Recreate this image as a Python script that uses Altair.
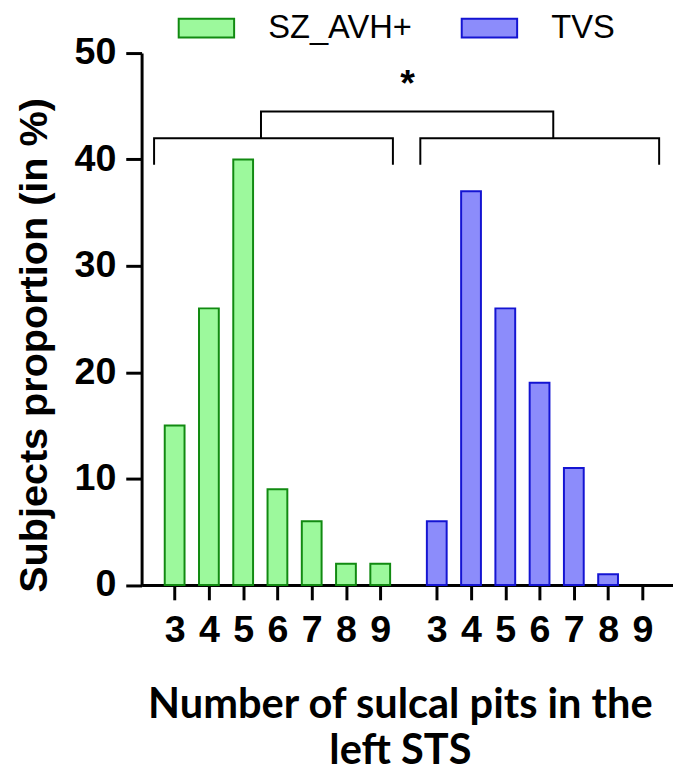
import altair as alt
import pandas as pd

# ---- data ----
pits = [3, 4, 5, 6, 7, 8, 9]
sz_avh = [15, 26, 40, 9, 6, 2, 2]
tvs = [6, 37, 26, 19, 11, 1, 0]
groups = ["SZ_AVH+", "TVS"]
fills = ["#9cf99c", "#8c8cfb"]
strokes = ["#118a11", "#1414d2"]

GAP = 7.65  # start of second group on the x scale (layout)

rows = []
for g, vals in zip(groups, [sz_avh, tvs]):
    for p, v in zip(pits, vals):
        rows.append({"group": g, "pits": p, "pct": v})
df = pd.DataFrame(rows)

# bracket annotation (x in scale units, y in %)
br_id = ["L", "L", "L", "L", "R", "R", "R", "R", "T", "T", "T", "T"]
br_ord = [0, 1, 2, 3] * 3
br_x = [-0.6, -0.6, 6.37, 6.37, 7.17, 7.17, 14.14, 14.14, 2.52, 2.52, 11.05, 11.05]
br_y = [39.5, 42, 42, 39.5, 39.5, 42, 42, 39.5, 42, 44.5, 44.5, 42]
brackets = pd.DataFrame({"id": br_id, "o": br_ord, "x": br_x, "y": br_y})
star = pd.DataFrame({"x": [6.8], "y": [47.0], "t": ["*"]})

tick_vals = [p - 3 for p in pits] + [p - 3 + GAP for p in pits]

xscale = alt.Scale(domain=[-0.82, 14.4], nice=False, zero=False)
yscale = alt.Scale(domain=[0, 50], nice=False)

# wide flat rectangle drawn beyond the unit box, so the legend row stays short
rect_path = "M-2.8,-0.95L2.8,-0.95L2.8,0.95L-2.8,0.95Z"

legend_opts = dict(title=None, orient="none", legendX=49, legendY=-42,
                   direction="horizontal", symbolType=rect_path,
                   symbolSize=400, symbolStrokeWidth=2,
                   labelFont="Liberation Sans", labelFontSize=33,
                   labelColor="black", labelOffset=46, columnPadding=45,
                   labelLimit=300)

bars = alt.Chart(df).transform_filter(
    "datum.pct > 0"
).transform_calculate(
    pos=f"datum.group === 'SZ_AVH+' ? datum.pits - 3 : datum.pits - 3 + {GAP}"
).mark_bar(size=20, strokeWidth=2).encode(
    x=alt.X("pos:Q", scale=xscale,
            axis=alt.Axis(values=tick_vals,
                          labelExpr=f"datum.value < 7 ? format(datum.value + 3, 'd') : format(round(datum.value - {GAP} + 3), 'd')",
                          title=["Number of sulcal pits in the", "left STS"],
                          titleFont="Lato", titleFontSize=42, titleFontWeight="bold",
                          titleLineHeight=46, titleBaseline="alphabetic",
                          titleX=261, titleY=134,
                          labelFont="Liberation Sans", labelFontSize=38, labelFontWeight="bold",
                          labelPadding=12, tickSize=15, tickWidth=3, domainWidth=3,
                          tickColor="black", domainColor="black", labelColor="black",
                          titleColor="black", grid=False, labelFlush=False,
                          labelOverlap=False)),
    y=alt.Y("pct:Q", scale=yscale,
            axis=alt.Axis(values=[0, 10, 20, 30, 40, 50], title="Subjects proportion (in %)",
                          titleFont="Liberation Sans", titleFontSize=40, titleFontWeight="bold",
                          titleX=-108, titleY=295, titleBaseline="middle", titleAngle=270,
                          labelFont="Liberation Sans", labelFontSize=38, labelFontWeight="bold",
                          labelPadding=10, tickSize=16, tickWidth=3, domainWidth=3,
                          tickColor="black", domainColor="black", labelColor="black",
                          titleColor="black", grid=False)),
    fill=alt.Fill("group:N", scale=alt.Scale(domain=groups, range=fills),
                  legend=alt.Legend(**legend_opts)),
    stroke=alt.Stroke("group:N", scale=alt.Scale(domain=groups, range=strokes),
                      legend=alt.Legend(**legend_opts)),
)

lines = alt.Chart(brackets).mark_line(color="black", strokeWidth=2).encode(
    x=alt.X("x:Q", scale=xscale),
    y=alt.Y("y:Q", scale=yscale),
    detail="id:N",
    order="o:Q",
)

star_t = alt.Chart(star).mark_text(font="Liberation Sans", fontSize=38, fontWeight="bold",
                                   baseline="middle", color="black").encode(
    x=alt.X("x:Q", scale=xscale),
    y=alt.Y("y:Q", scale=yscale),
    text="t:N",
)

chart = alt.layer(bars, lines, star_t).properties(
    width=537, height=537.5,
    autosize=alt.AutoSizeParams(type="none"),
    padding={"left": 135, "top": 41.5, "right": 0, "bottom": 189},
).configure_view(strokeWidth=0)

chart.save("out.html", embed_options={"renderer": "svg", "actions": False})
